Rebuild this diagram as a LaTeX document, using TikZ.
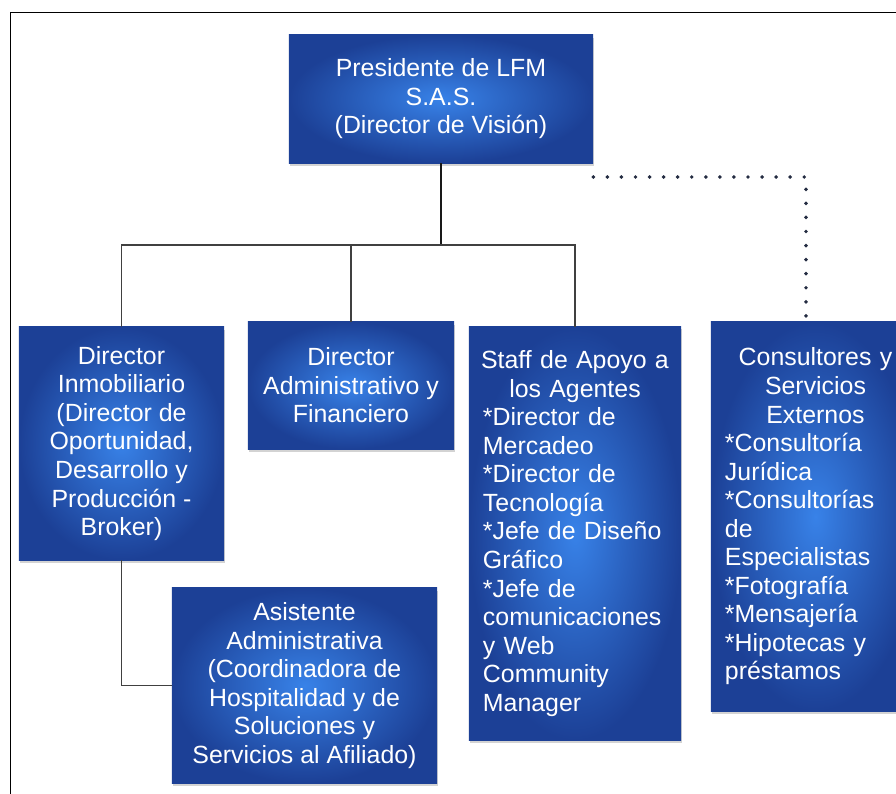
\documentclass[tikz,border=0pt]{standalone}
\usepackage{fontspec}
\setmainfont{Liberation Sans}
\usetikzlibrary{shadows}

\definecolor{boxlight}{RGB}{56,130,232}
\definecolor{boxdark}{RGB}{28,64,150}
\definecolor{dotblue}{RGB}{36,44,66}

\begin{document}
\begin{tikzpicture}[x=0.025cm, y=-0.025cm,
    cargo/.style={rectangle, shading=radial, inner color=boxlight, outer color=boxdark,
        text=white, font=\fontsize{17.7}{20.3}\selectfont, inner sep=0pt,
        drop shadow={shadow xshift=0.6pt, shadow yshift=-1.8pt, opacity=0.35}},
    linea/.style={draw=black!75, line width=0.9pt},
    tronco/.style={draw=black!90, line width=1.5pt},
    punteado/.style={draw=dotblue, line width=2.8pt, line cap=round, dash pattern=on 0pt off 10pt}]

    % 画布与边框
    \useasboundingbox (0,0) rectangle (896,794);
    \clip (0,0) rectangle (896,794);
    \draw[line width=1.4pt] (10.5,830) -- (10.5,12.5) -- (930,12.5);

    % 画各个职位方框
    \node[cargo, minimum width=7.6cm, minimum height=3.2cm, align=center] (pres) at (441,99)
        {Presidente de LFM\\ S.A.S.\\ (Director de Visión)};
    \node[cargo, minimum width=5.125cm, minimum height=5.825cm, align=center] (inmo) at (121.5,443.5)
        {Director\\ Inmobiliario\\ (Director de\\ Oportunidad,\\ Desarrollo y\\ Producción -\\ Broker)};
    \node[cargo, minimum width=5.15cm, minimum height=3.175cm, align=center] (admin) at (351,385.5)
        {Director\\ Administrativo y\\ Financiero};
    \node[cargo, minimum width=5.3cm, minimum height=10.325cm, text width=4.6cm, align=left] (staff) at (575,533.5)
        {\makebox[\linewidth]{Staff de Apoyo a}\\ \makebox[\linewidth]{los Agentes}\\{}*Director de\\ Mercadeo\\{}*Director de\\ Tecnología\\{}*Jefe de Diseño\\ Gráfico\\{}*Jefe de\\ comunicaciones\\ y Web\\ Community\\ Manager};
    \node[cargo, minimum width=5.225cm, minimum height=9.725cm, text width=4.525cm, align=left] (consult) at (815.5,516.5)
        {\makebox[\linewidth]{Consultores y}\\ \makebox[\linewidth]{Servicios}\\ \makebox[\linewidth]{Externos}\\{}*Consultoría\\ Jurídica\\{}*Consultorías\\ de\\ Especialistas\\{}*Fotografía\\{}*Mensajería\\{}*Hipotecas y\\ préstamos};
    \node[cargo, minimum width=6.625cm, minimum height=4.875cm, align=center] (asist) at (304.5,685.5)
        {Asistente\\ Administrativa\\ (Coordinadora de\\ Hospitalidad y de\\ Soluciones y\\ Servicios al Afiliado)};

    % 画连接线
    \coordinate (barra) at (441,245);
    \coordinate (esquina) at (806,177);
    \draw[tronco] (pres.south) -- (barra);
    \draw[linea] (inmo.north) |- (barra);
    \draw[linea] (staff.north) |- (barra);
    \draw[linea] (admin.north) -- (admin.north |- barra);
    \draw[linea] (inmo.south) |- (asist.west);

    % 画虚线（外部顾问）
    \draw[punteado] (pres.south east |- esquina) -- (esquina) -- (esquina |- consult.north);
\end{tikzpicture}
\end{document}
